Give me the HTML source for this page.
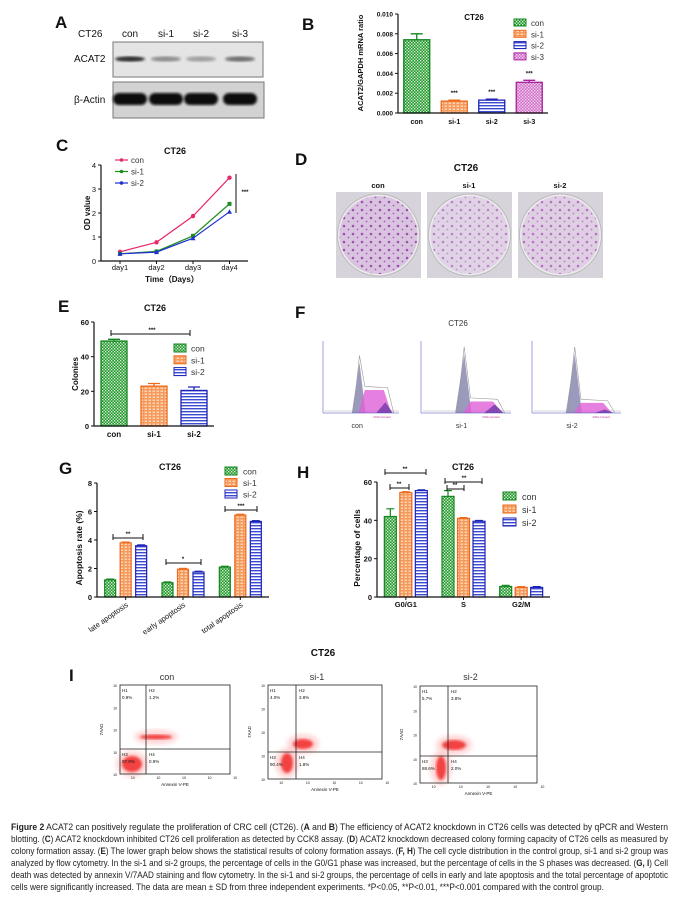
<!DOCTYPE html>
<html><head><meta charset="utf-8"><style>
html,body{margin:0;padding:0;background:#fff}
svg{display:block;font-family:"Liberation Sans",sans-serif}
</style></head><body>
<svg id="fig" width="681" height="907" viewBox="0 0 681 907" xmlns="http://www.w3.org/2000/svg">
<defs>
<pattern id="pG" width="3" height="3" patternUnits="userSpaceOnUse"><rect width="3" height="3" fill="#1f9a2a"/><rect x="0" y="0" width="1.3" height="1.3" fill="#e8f5e8"/><rect x="1.5" y="1.5" width="1.3" height="1.3" fill="#e8f5e8"/></pattern>
<pattern id="pO" width="4" height="3" patternUnits="userSpaceOnUse"><rect width="4" height="3" fill="#f59a5a"/><rect x="0.5" y="0.6" width="2.5" height="1.2" fill="#fde3cf"/></pattern>
<pattern id="pB" width="3" height="3" patternUnits="userSpaceOnUse"><rect width="3" height="3" fill="#fff"/><rect y="0" width="3" height="1.4" fill="#3a4bd0"/></pattern>
<pattern id="pM" width="3" height="3" patternUnits="userSpaceOnUse"><rect width="3" height="3" fill="#d070c8"/><rect x="0" y="0" width="1.3" height="1.3" fill="#f6dcf3"/><rect x="1.5" y="1.5" width="1.3" height="1.3" fill="#f6dcf3"/></pattern>
<pattern id="pDots" width="9" height="8" patternUnits="userSpaceOnUse"><circle cx="2" cy="2" r="1.3" fill="#a040b0"/><circle cx="6.5" cy="5.5" r="0.9" fill="#b050c0"/></pattern>
<filter id="blur1"><feGaussianBlur stdDeviation="1.2"/></filter>
<filter id="blur2"><feGaussianBlur stdDeviation="2.5"/></filter>
</defs>
</svg>
<script>
// ---------- data ----------
const bCats = ['con','si-1','si-2','si-3'];
const bVals = [0.0074,0.0012,0.0013,0.0031];
const bErrs = [0.0006,0.0001,0.0001,0.0002];
const bTicks = ['0.000','0.002','0.004','0.006','0.008','0.010'];
const bSig = ['','***','***','***'];

const cDays = ['day1','day2','day3','day4'];
const cSeries = ['con','si-1','si-2'];
const cCon = [0.38,0.78,1.87,3.47];
const cSi1 = [0.30,0.40,1.05,2.38];
const cSi2 = [0.30,0.37,0.95,2.05];
const cTicks = [0,1,2,3,4];

const eCats = ['con','si-1','si-2'];
const eVals = [49,23,20.5];
const eErrs = [1,1.5,2];
const eTicks = [0,20,40,60];

const gGroups = ['late apoptosis','early apoptosis','total  apoptosis'];
const gCon = [1.2,1.0,2.1];
const gSi1 = [3.8,1.95,5.75];
const gSi2 = [3.6,1.75,5.3];
const gTicks = [0,2,4,6,8];

const hGroups = ['G0/G1','S','G2/M'];
const hCon = [42,52.5,5.5];
const hSi1 = [54.5,41,5];
const hSi2 = [55.5,39.5,5];
const hErrCon = [4,3,0.6];
const hTicks = [0,20,40,60];

const flowNames = ['con','si-1','si-2'];
const flowQ = [['0.9%','1.2%','97.0%','0.9%'],['4.0%','3.8%','90.4%','1.8%'],['5.7%','3.8%','88.6%','2.0%']];

// ---------- helpers ----------
const NS='http://www.w3.org/2000/svg';
const svg=document.getElementById('fig');
function el(tag,attrs,parent){const e=document.createElementNS(NS,tag);for(const k in attrs)e.setAttribute(k,attrs[k]);(parent||svg).appendChild(e);return e;}
function txt(x,y,s,size,anchor,weight,parent,fill){const t=el('text',{x:x,y:y,'font-size':size,'text-anchor':anchor||'start','font-weight':weight||'normal',fill:fill||'#111'},parent);t.textContent=s;return t;}
function grp(name){const g=el('g',{});return g;}
const fills=['url(#pG)','url(#pO)','url(#pB)','url(#pM)'];
const strokes=['#14861e','#ee6a1c','#1d22b8','#a8209c'];

// ---------- Panel A ----------
(function(){
 const g=grp('panel-a-western-blot');
 const L=txt(55,28,'A',17,'start','bold',g);
 txt(78,37,'CT26',10,'start','normal',g);
 const lanes=[130,166,201,240];
 ['con','si-1','si-2','si-3'].forEach((s,i)=>{const t=txt(lanes[i],37,s,10,'middle','normal',g);});
 const b1=el('rect',{x:113,y:42,width:150,height:35,fill:'#e4e4e4',stroke:'#777','stroke-width':1},g);
 const b2=el('rect',{x:113,y:82,width:151,height:36,fill:'#d2d2d2',stroke:'#777','stroke-width':1},g);
 txt(74,62,'ACAT2',10,'start','normal',g);
 txt(74,103,'β-Actin',10,'start','normal',g);
 const inten=[0.95,0.45,0.35,0.6];
 lanes.forEach((x,i)=>{el('ellipse',{cx:x,cy:59,rx:15,ry:2.6,fill:'#222','fill-opacity':inten[i],filter:'url(#blur1)'},g);
  el('rect',{x:x-17,y:93,width:34,height:12,rx:6,fill:'#111',filter:'url(#blur1)'},g);});
})();

// ---------- Panel B ----------
(function(){
 const g=grp('panel-b-mrna-chart');
 const x0=398,x1=548,y0=113,yT=14,max=0.010;
 const Y=v=>y0-(v/max)*(y0-yT);
 const step=(x1-x0)/bCats.length;
 txt(302,30,'B',17,'start','bold',g);
 txt(474,20,'CT26',8,'middle','bold',g);
 bCats.forEach((c,i)=>{const cx=x0+(i+0.5)*step;
  const r=el('rect',{x:cx-13,y:Y(bVals[i]),width:26,height:y0-Y(bVals[i]),fill:fills[i],stroke:strokes[i],'stroke-width':1.3},g);
  
  el('path',{d:`M${cx} ${Y(bVals[i])}V${Y(bVals[i]+bErrs[i])}M${cx-6} ${Y(bVals[i]+bErrs[i])}H${cx+6}`,stroke:strokes[i],'stroke-width':1.3,fill:'none'},g);
  if(bSig[i])txt(cx,Y(bVals[i]+bErrs[i])-5,bSig[i],6,'middle','bold',g);
  txt(cx,124,c,7,'middle','bold',g);});
 el('path',{d:`M${x0} ${yT}V${y0}H${x1}`,stroke:'#111','stroke-width':1.2,fill:'none'},g);
 bTicks.forEach((t,i)=>{const y=Y(i*0.002);el('line',{x1:x0-3,x2:x0,y1:y,y2:y,stroke:'#111'},g);txt(x0-5,y+2.5,t,6.5,'end','bold',g);});
 const yl=txt(0,0,'ACAT2/GAPDH mRNA ratio',7.5,'middle','bold',g);yl.setAttribute('transform','translate(363,63) rotate(-90)');
 bCats.forEach((c,i)=>{const y=19+i*11.3;const r=el('rect',{x:514,y:y,width:12,height:7,fill:fills[i],stroke:strokes[i]},g);txt(531,y+7,c,8,'start','normal',g,'#333');});
})();

// ---------- Panel C ----------
(function(){
 const g=grp('panel-c-growth-curve');
 const x0=101,x1=248,y0=261,yT=165,max=4;
 const Y=v=>y0-(v/max)*(y0-yT);
 const X=i=>x0+19+i*36.5;
 txt(56,151,'C',17,'start','bold',g);
 txt(175,154,'CT26',9,'middle','bold',g);
 el('path',{d:`M${x0} ${yT}V${y0}H${x1}`,stroke:'#111','stroke-width':1.2,fill:'none'},g);
 cTicks.forEach(t=>{el('line',{x1:x0-3,x2:x0,y1:Y(t),y2:Y(t),stroke:'#111'},g);txt(x0-5,Y(t)+3,String(t),7.5,'end','normal',g);});
 cDays.forEach((d,i)=>{el('line',{x1:X(i),x2:X(i),y1:y0,y2:y0+3,stroke:'#111'},g);txt(X(i),270,d,7.5,'middle','normal',g);});
 const xl=txt(172,282,'Time（Days）',8,'middle','bold',g);
 const yl=txt(0,0,'OD value',8,'middle','bold',g);yl.setAttribute('transform','translate(90,213) rotate(-90)');
 const cols=['#e8286a','#1e8f1e','#2030d0'];
 [cCon,cSi1,cSi2].forEach((s,k)=>{
  const p=el('polyline',{points:s.map((v,i)=>X(i)+','+Y(v)).join(' '),fill:'none',stroke:cols[k],'stroke-width':1.2},g);
  
  s.forEach((v,i)=>{let m;if(k==0)m=el('circle',{cx:X(i),cy:Y(v),r:2.2,fill:cols[k]},g);else if(k==1)m=el('rect',{x:X(i)-2,y:Y(v)-2,width:4,height:4,fill:cols[k]},g);else m=el('path',{d:`M${X(i)} ${Y(v)-2.5}L${X(i)+2.5} ${Y(v)+2}H${X(i)-2.5}Z`,fill:cols[k]},g);
   });
  const ly=160+k*11.5;el('line',{x1:115,x2:128,y1:ly,y2:ly,stroke:cols[k],'stroke-width':1.2},g);el('circle',{cx:121.5,cy:ly,r:1.8,fill:cols[k]},g);txt(131,ly+3,cSeries[k],8,'start','normal',g,'#333');});
 el('line',{x1:236,x2:236,y1:174,y2:213,stroke:'#111'},g);txt(245,194,'***',6,'middle','bold',g);
})();

// ---------- Panel D ----------
(function(){
 const g=grp('panel-d-colony-plates');
 txt(295,165,'D',17,'start','bold',g);
 txt(466,171,'CT26',10,'middle','bold',g);
 const px=[336,427,518];const dens=[0.9,0.55,0.65];
 ['con','si-1','si-2'].forEach((n,i)=>{
  txt(px[i]+42,188,n,7.5,'middle','bold',g);
  const r=el('rect',{x:px[i],y:192,width:85,height:86,fill:'#d6d4da'},g);
  el('circle',{cx:px[i]+42.5,cy:235,r:41,fill:'#ecebee',stroke:'#bbb'},g);
  el('circle',{cx:px[i]+42.5,cy:235,r:39,fill:'url(#pDots)','fill-opacity':dens[i]},g);
  el('circle',{cx:px[i]+42.5,cy:235,r:39,fill:'#9a40b0','fill-opacity':dens[i]*0.25},g);});
})();

// ---------- Panel E ----------
(function(){
 const g=grp('panel-e-colonies-chart');
 const x0=94,x1=214,y0=426,yT=322,max=60;
 const Y=v=>y0-(v/max)*(y0-yT);const step=(x1-x0)/eCats.length;
 txt(58,312,'E',17,'start','bold',g);
 txt(155,311,'CT26',9,'middle','bold',g);
 eCats.forEach((c,i)=>{const cx=x0+(i+0.5)*step;
  const r=el('rect',{x:cx-13,y:Y(eVals[i]),width:26,height:y0-Y(eVals[i]),fill:fills[i],stroke:strokes[i],'stroke-width':1.3},g);
  
  el('path',{d:`M${cx} ${Y(eVals[i])}V${Y(eVals[i]+eErrs[i])}M${cx-6} ${Y(eVals[i]+eErrs[i])}H${cx+6}`,stroke:strokes[i],'stroke-width':1.3,fill:'none'},g);
  txt(cx,437,c,8,'middle','bold',g);});
 el('path',{d:`M${x0} ${yT}V${y0}H${x1}`,stroke:'#111','stroke-width':1.2,fill:'none'},g);
 eTicks.forEach(t=>{el('line',{x1:x0-3,x2:x0,y1:Y(t),y2:Y(t),stroke:'#111'},g);txt(x0-5,Y(t)+3,String(t),7.5,'end','bold',g);});
 const yl=txt(0,0,'Colonies',8,'middle','bold',g);yl.setAttribute('transform','translate(78,374) rotate(-90)');
 el('path',{d:'M111 330V336M111 334H190M190 330V336',stroke:'#111',fill:'none'},g);txt(152,332,'***',6,'middle','bold',g);
 eCats.forEach((c,i)=>{const y=344+i*11.8;const r=el('rect',{x:174,y:y,width:12,height:8,fill:fills[i],stroke:strokes[i]},g);txt(191,y+7.5,c,8.5,'start','normal',g,'#333');});
})();

// ---------- Panel F ----------
(function(){
 const g=grp('panel-f-cell-cycle');
 txt(295,318,'F',17,'start','bold',g);
 txt(458,326,'CT26',8,'middle','normal',g,'#333');
 const P=[{x:323,w:76,pk:.8,pink:.32,g2:.15,n:'con'},{x:421,w:90,pk:.92,pink:.16,g2:.12,n:'si-1'},{x:532,w:89,pk:.92,pink:.14,g2:.05,n:'si-2'}];
 P.forEach(p=>{const b=413,h=72,X=f=>p.x+f*p.w,Yv=f=>b-f*h;
  const s=grp('histogram-'+p.n);g.appendChild(s);
  el('path',{d:`M${X(.02)} ${b-2}L${X(1)} ${b-2}`,stroke:'#aaa','stroke-width':0.6,fill:'none'},s);
  el('path',{d:`M${X(.38)} ${b}L${X(.48)} ${Yv(p.pk-0.1)}L${X(.56)} ${b}Z`,fill:'#8a88b0','fill-opacity':.85},s);
  el('path',{d:`M${X(.47)} ${b}L${X(.55)} ${Yv(p.pink)}L${X(.8)} ${Yv(p.pink)}L${X(.9)} ${b}Z`,fill:'#e060d8','fill-opacity':.8},s);
  el('path',{d:`M${X(.7)} ${b}L${X(.82)} ${Yv(p.g2)}L${X(.92)} ${b}Z`,fill:'#6030a0','fill-opacity':.7},s);
  el('path',{d:`M${X(.4)} ${b}L${X(.48)} ${Yv(p.pk)}L${X(.55)} ${Yv(p.pink+.05)}L${X(.85)} ${Yv(p.pink+.03)}L${X(.93)} ${b}`,stroke:'#999','stroke-width':.6,fill:'none'},s);
  el('path',{d:`M${p.x} ${b-h}V${b}H${p.x+p.w}`,stroke:'#4040c0','stroke-width':.5,fill:'none'},s);
  txt(X(.78),b+5,'DNA Content',3,'middle','normal',s,'#c03090');
  txt(p.x+p.w*0.45,428,p.n,7,'middle','normal',g,'#333');});
})();

// ---------- Panel G ----------
(function(){
 const g=grp('panel-g-apoptosis-chart');
 const x0=97,x1=269,y0=597,yT=483,max=8;
 const Y=v=>y0-(v/max)*(y0-yT);const step=(x1-x0)/gGroups.length;
 txt(59,474,'G',17,'start','bold',g);
 txt(170,470,'CT26',9,'middle','bold',g);
 [gCon,gSi1,gSi2].forEach((s,k)=>{s.forEach((v,i)=>{const cx=x0+(i+0.5)*step+(k-1)*15.5;
  const r=el('rect',{x:cx-5.5,y:Y(v),width:11,height:y0-Y(v),fill:fills[k],stroke:strokes[k],'stroke-width':1.2},g);
  
  el('line',{x1:cx-4,x2:cx+4,y1:Y(v)-0.8,y2:Y(v)-0.8,stroke:strokes[k],'stroke-width':1.2},g);});});
 el('path',{d:`M${x0} ${yT}V${y0}H${x1}`,stroke:'#111','stroke-width':1.2,fill:'none'},g);
 gTicks.forEach(t=>{el('line',{x1:x0-3,x2:x0,y1:Y(t),y2:Y(t),stroke:'#111'},g);txt(x0-5,Y(t)+3,String(t),7.5,'end','bold',g);});
 gGroups.forEach((n,i)=>{const cx=x0+(i+0.5)*step;el('line',{x1:cx,x2:cx,y1:y0,y2:y0+3,stroke:'#111'},g);
  const t=txt(0,0,n,7.5,'end','normal',g);t.setAttribute('transform',`translate(${cx+3},${y0+9}) rotate(-35)`);});
 const yl=txt(0,0,'Apoptosis rate (%)',8.5,'middle','bold',g);yl.setAttribute('transform','translate(82,548) rotate(-90)');
 el('path',{d:'M113 534V540M113 538H143M143 534V540',stroke:'#111',fill:'none'},g);txt(128,536,'**',6,'middle','bold',g);
 el('path',{d:'M166 559V565M166 563H201M201 559V565',stroke:'#111',fill:'none'},g);txt(183,561,'*',6,'middle','bold',g);
 el('path',{d:'M225 506V512M225 510H257M257 506V512',stroke:'#111',fill:'none'},g);txt(241,508,'***',6,'middle','bold',g);
 ['con','si-1','si-2'].forEach((c,i)=>{const y=467+i*11.5;const r=el('rect',{x:225,y:y,width:12,height:8,fill:fills[i],stroke:strokes[i]},g);txt(243,y+7.5,c,8.5,'start','normal',g,'#333');});
})();

// ---------- Panel H ----------
(function(){
 const g=grp('panel-h-cell-cycle-chart');
 const x0=377,x1=550,y0=597,yT=482,max=60;
 const Y=v=>y0-(v/max)*(y0-yT);const step=(x1-x0)/hGroups.length;
 txt(297,478,'H',17,'start','bold',g);
 txt(463,470,'CT26',9,'middle','bold',g);
 [hCon,hSi1,hSi2].forEach((s,k)=>{s.forEach((v,i)=>{const cx=x0+(i+0.5)*step+(k-1)*15.5;
  const r=el('rect',{x:cx-6,y:Y(v),width:12,height:y0-Y(v),fill:fills[k],stroke:strokes[k],'stroke-width':1.2},g);
  
  const e=k==0?hErrCon[i]:0.4;
  el('path',{d:`M${cx} ${Y(v)}V${Y(v+e)}M${cx-4} ${Y(v+e)}H${cx+4}`,stroke:strokes[k],'stroke-width':1.2,fill:'none'},g);});});
 el('path',{d:`M${x0} ${yT}V${y0}H${x1}`,stroke:'#111','stroke-width':1.2,fill:'none'},g);
 hTicks.forEach(t=>{el('line',{x1:x0-3,x2:x0,y1:Y(t),y2:Y(t),stroke:'#111'},g);txt(x0-5,Y(t)+3,String(t),7.5,'end','bold',g);});
 hGroups.forEach((n,i)=>{const cx=x0+(i+0.5)*step;el('line',{x1:cx,x2:cx,y1:y0,y2:y0+3,stroke:'#111'},g);txt(cx,607,n,7.5,'middle','bold',g);});
 const yl=txt(0,0,'Percentage of cells',8.5,'middle','bold',g);yl.setAttribute('transform','translate(360,548) rotate(-90)');
 el('path',{d:'M385 469V475M385 473H426M426 469V475',stroke:'#111',fill:'none'},g);txt(405,471,'**',6,'middle','bold',g);
 el('path',{d:'M390 484V490M390 488H409M409 484V490',stroke:'#111',fill:'none'},g);txt(399,486,'**',6,'middle','bold',g);
 el('path',{d:'M445 478V484M445 482H482M482 478V484',stroke:'#111',fill:'none'},g);txt(464,480,'**',6,'middle','bold',g);
 el('path',{d:'M447 485V491M447 489H464M464 485V491',stroke:'#111',fill:'none'},g);txt(455,487,'**',6,'middle','bold',g);
 ['con','si-1','si-2'].forEach((c,i)=>{const y=492+i*13;const r=el('rect',{x:503,y:y,width:13,height:8,fill:fills[i],stroke:strokes[i]},g);txt(522,y+8,c,9,'start','normal',g,'#333');});
})();

// ---------- Panel I ----------
(function(){
 const g=grp('panel-i-flow-cytometry');
 txt(323,656,'CT26',10,'middle','bold',g);
 txt(69,681,'I',17,'start','bold',g);
 const B=[{x:120,y:685,w:110,h:89,vx:146,hy:749},{x:268,y:685,w:114,h:94,vx:296,hy:752},{x:420,y:686,w:117,h:97,vx:448,hy:756}];
 const C=[[[132,764,10,8],[156,737,16,2.5]],[[287,763,6,10],[303,744,10,5]],[[441,768,5,12],[454,745,12,5]]];
 B.forEach((b,i)=>{const s=grp('flow-plot-'+flowNames[i]);g.appendChild(s);
  txt(b.x+b.w/2-8,680,flowNames[i],9,'middle','normal',s,'#333');
  C[i].forEach(c=>{el('ellipse',{cx:c[0],cy:c[1],rx:c[2]+6,ry:c[3]+5,fill:'#ff8a8a','fill-opacity':.35,filter:'url(#blur2)'},s);
   el('ellipse',{cx:c[0],cy:c[1],rx:c[2],ry:c[3],fill:'#ee1010','fill-opacity':.75,filter:'url(#blur1)'},s);});
  el('rect',{x:b.x,y:b.y,width:b.w,height:b.h,fill:'none',stroke:'#222','stroke-width':.8},s);
  el('line',{x1:b.vx,x2:b.vx,y1:b.y,y2:b.y+b.h,stroke:'#222','stroke-width':.8},s);
  el('line',{x1:b.x,x2:b.x+b.w,y1:b.hy,y2:b.hy,stroke:'#222','stroke-width':.8},s);
  const q=flowQ[i];
  txt(b.x+2,b.y+7,'H1',4.5,'start','normal',s);txt(b.x+2,b.y+14,q[0],4.5,'start','normal',s);
  txt(b.vx+3,b.y+7,'H2',4.5,'start','normal',s);txt(b.vx+3,b.y+14,q[1],4.5,'start','normal',s);
  txt(b.x+2,b.hy+7,'H3',4.5,'start','normal',s);txt(b.x+2,b.hy+14,q[2],4.5,'start','normal',s);
  txt(b.vx+3,b.hy+7,'H4',4.5,'start','normal',s);txt(b.vx+3,b.hy+14,q[3],4.5,'start','normal',s);
  for(let k=0;k<5;k++){txt(b.x-3,b.y+2+k*b.h/4,'10',3.5,'end','normal',s);txt(b.x+(k+0.5)*b.w/4.3,b.y+b.h+5,'10',3.5,'middle','normal',s);}
  const t=txt(0,0,'7AAD',4.5,'middle','normal',s);t.setAttribute('transform',`translate(${b.x-17},${b.y+b.h/2}) rotate(-90)`);
  txt(b.x+b.w/2,b.y+b.h+12,'Annexin V-PE',4.5,'middle','normal',s);});
})();

// ---------- Caption ----------
(function(){
 const g=grp('figure-caption');
 const lines=[
  [['Figure 2',1],[' ACAT2 can positively regulate the proliferation of CRC cell (CT26). (',0],['A',1],[' and ',0],['B',1],[') The efficiency of ACAT2 knockdown in CT26 cells was detected by qPCR and Western',0]],
  [['blotting. (',0],['C',1],[') ACAT2 knockdown inhibited CT26 cell proliferation as detected by CCK8 assay. (',0],['D',1],[') ACAT2 knockdown decreased colony forming capacity of CT26 cells as measured by',0]],
  [['colony formation assay. (',0],['E',1],[') The lower graph below shows the statistical results of colony formation assays. (',0],['F, H',1],[') The cell cycle distribution in the control group, si-1 and si-2 group was',0]],
  [['analyzed by flow cytometry. In the si-1 and si-2 groups, the percentage of cells in the G0/G1 phase was increased, but the percentage of cells in the S phases was decreased. (',0],['G, I',1],[') Cell',0]],
  [['death was detected by annexin V/7AAD staining and flow cytometry. In the si-1 and si-2 groups, the percentage of cells in early and late apoptosis and the total percentage of apoptotic',0]],
  [['cells were significantly increased. The data are mean ± SD from three independent experiments. *P<0.05, **P<0.01, ***P<0.001 compared with the control group.',0]]];
 lines.forEach((ln,i)=>{const t=el('text',{x:11,y:830+i*12,'font-size':9.3,fill:'#222',textLength:i==5?593:657,lengthAdjust:'spacingAndGlyphs'},g);
  
  ln.forEach(p=>{const s=el('tspan',{'font-weight':p[1]?'bold':'normal'},t);s.textContent=p[0];});});
})();
</script>
</body></html>
